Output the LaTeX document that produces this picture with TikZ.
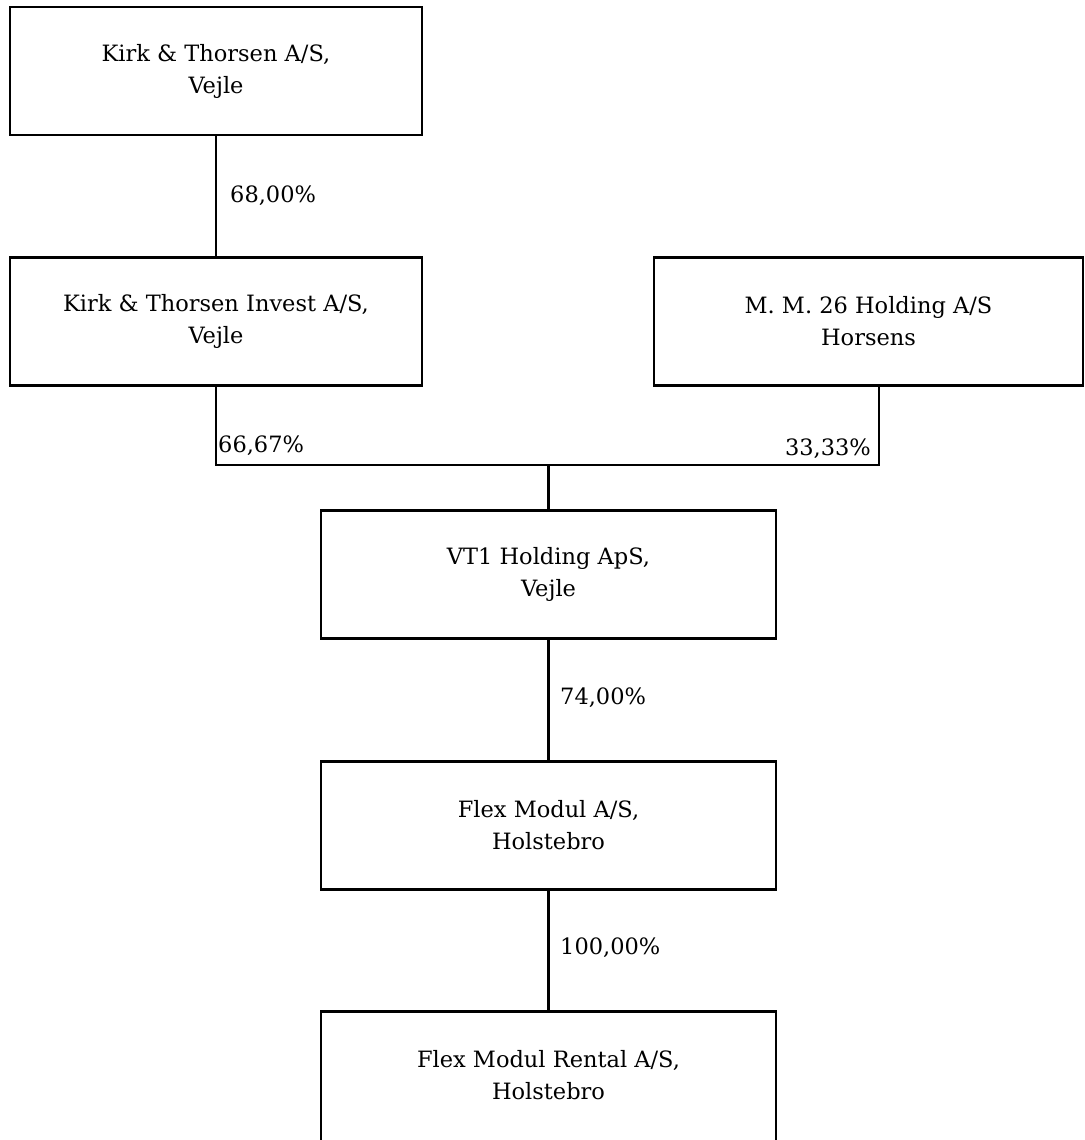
\documentclass[tikz,border=0pt]{standalone}
\usepackage{fontspec}
\setmainfont{DejaVu Serif}
\begin{document}
\begin{tikzpicture}[x=1pt,y=-1pt,
  org/.style={draw=black, line width=2.9pt, fill=white, align=center, inner sep=0pt,
    minimum height=128pt, font=\fontsize{22.5}{32}\selectfont},
  openorg/.style={org, draw=none, outer sep=0pt},
  link/.style={line width=2.9pt},
  pct/.style={anchor=west, inner sep=0pt, font=\fontsize{22.5}{32}\selectfont}]
\clip (0,0) rectangle (1084,1140);
\fill[white] (0,0) rectangle (1084,1140);
\node[org, minimum width=412pt] (A) at (216,71) {Kirk \& Thorsen A/S,\\Vejle};
\node[org, minimum width=412pt] (B) at (216,321.5) {Kirk \& Thorsen Invest A/S,\\Vejle};
\node[org, minimum width=429pt] (M) at (868.5,321.5) {M. M. 26 Holding A/S\\Horsens};
\node[org, minimum width=455pt] (V) at (548.5,574.5) {VT1 Holding ApS,\\Vejle};
\node[org, minimum width=455pt] (F) at (548.5,825.5) {Flex Modul A/S,\\Holstebro};
\node[openorg, minimum width=455pt] (R) at (548.5,1075.5) {Flex Modul Rental A/S,\\Holstebro};
\draw[link] ([yshift=-20pt]R.south west) -- (R.north west) -- (R.north east) -- ([yshift=-20pt]R.south east);
\coordinate (jl) at (216,465);
\coordinate (jr) at (879,465);
\coordinate (jm) at (548.5,465);
\draw[link] (A.south) -- (B.north);
\draw[link] (B.south) -- (jl) -- (jr) -- (jr |- M.south);
\draw[link] (jm) -- (V.north);
\draw[link] (V.south) -- (F.north);
\draw[link] (F.south) -- (R.north);
\node[pct] (p1) at (230,196) {68,00\%};
\node[pct] (p2) at (218,446) {66,67\%};
\node[pct, anchor=east] (p3) at (871,449) {33,33\%};
\node[pct] (p4) at (560,698) {74,00\%};
\node[pct] (p5) at (560,948) {100,00\%};
\end{tikzpicture}
\end{document}
